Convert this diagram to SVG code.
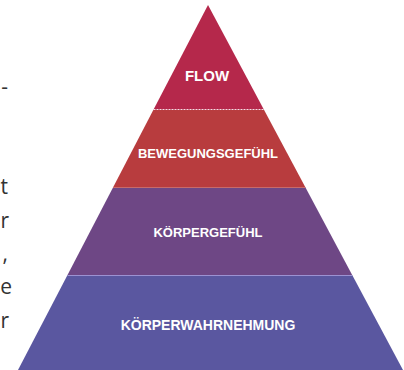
<svg xmlns="http://www.w3.org/2000/svg" width="404" height="370" viewBox="0 0 404 370">
  <style>
    .lbl { font-family: "Liberation Sans", Arial, sans-serif; font-weight: bold; fill: #ffffff; text-anchor: middle; }
    .frag { font-family: "Open Sans", "DejaVu Sans", sans-serif; font-size: 21px; fill: #333333; text-anchor: end; }
  </style>
  <rect width="404" height="370" fill="#ffffff"/>
  <g id="text-fragments">
    <text class="frag" x="8" y="94">-</text>
    <text class="frag" x="8" y="194">t</text>
    <text class="frag" x="9" y="228">r</text>
    <text class="frag" x="8" y="261">,</text>
    <text class="frag" x="12" y="294">e</text>
    <text class="frag" x="9" y="328">r</text>
  </g>
  <g id="layer-flow">
    <polygon points="208,5 264.1,110 153.3,110" fill="#b5284b"/>
    <text class="lbl" x="207" y="80.5" font-size="15">FLOW</text>
  </g>
  <g id="layer-bewegungsgefuehl">
    <polygon points="153.3,110 264.1,110 305.5,187.5 113,187.5" fill="#b83c3e"/>
    <text class="lbl" x="208" y="157.7" font-size="13">BEWEGUNGSGEFÜHL</text>
  </g>
  <g id="layer-koerpergefuehl">
    <polygon points="113,187.5 305.5,187.5 352.2,275 67.5,275" fill="#6e4785"/>
    <text class="lbl" x="208" y="236.7" font-size="13">KÖRPERGEFÜHL</text>
  </g>
  <g id="layer-koerperwahrnehmung">
    <polygon points="67.5,275 352.2,275 403,370 18,370" fill="#5a57a0"/>
    <text class="lbl" x="208" y="330" font-size="14">KÖRPERWAHRNEHMUNG</text>
  </g>
  <g id="connectors">
    <line x1="153.5" y1="109.5" x2="264" y2="109.5" stroke="#ffffff" stroke-width="1" stroke-dasharray="2,1" opacity="0.85"/>
    <line x1="113" y1="187.5" x2="305.5" y2="187.5" stroke="#c86a6a" stroke-width="1"/>
    <line x1="67.5" y1="275.5" x2="352.2" y2="275.5" stroke="#9c92d2" stroke-width="1"/>
  </g>
</svg>
